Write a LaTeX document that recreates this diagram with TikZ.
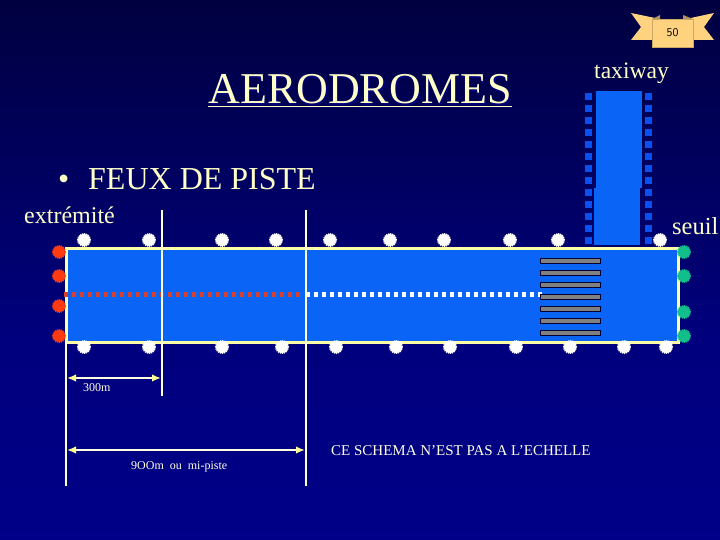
\documentclass[tikz,border=0pt]{standalone}
\usepackage{fontspec}
\setmainfont{Liberation Serif}
\usetikzlibrary{arrows.meta}
\definecolor{cream}{HTML}{FFFFC8}
\definecolor{edgecol}{HTML}{FFFFA8}
\definecolor{pale}{HTML}{FFFFE0}
\definecolor{runway}{HTML}{0A64F5}
\definecolor{redlight}{HTML}{FF3A10}
\definecolor{greenlight}{HTML}{12BE8C}
\definecolor{redmark}{HTML}{D8402C}
\definecolor{ribbon}{HTML}{FFD27F}
\definecolor{ribbondark}{HTML}{B09060}
\definecolor{taxisq}{HTML}{0850F0}
\definecolor{bgtop}{HTML}{000040}
\definecolor{bgbot}{HTML}{00007E}
\definecolor{bgend}{HTML}{000088}
\definecolor{tipcol}{HTML}{FFFF90}
\definecolor{stripeedge}{HTML}{000030}
\tikzset{
  lamp/.style={circle,minimum size=12pt,inner sep=0pt,fill=#1,draw=#1,line width=1.8pt,dash pattern=on 1.2pt off 0.8pt},
  whitelamp/.style={lamp=white},
  redlamp/.style={lamp=redlight},
  greenlamp/.style={lamp=greenlight},
  txt/.style={text=cream,inner sep=0pt,anchor=base},
  small/.style={text=pale,inner sep=0pt,anchor=base,font=\fontsize{12}{12}\selectfont},
  guide/.style={draw=pale,line width=2.2pt},
  dimline/.style={draw=pale,line width=2.2pt,{Latex[length=9pt,width=7.5pt,color=tipcol]}-{Latex[length=9pt,width=7.5pt,color=tipcol]}},
  stripe/.style={fill=gray,draw=stripeedge,line width=1.4pt},
  sq/.style={fill=taxisq},
  dot/.style={inner sep=0pt,minimum width=4.5pt,minimum height=5pt},
}
\begin{document}
\begin{tikzpicture}[x=1pt,y=-1pt]
\useasboundingbox (0,0) rectangle (720,540);
\shade[top color=bgtop,bottom color=bgbot] (0,0) rectangle (720,340);
\shade[top color=bgbot,bottom color=bgend] (0,340) rectangle (720,540);

% taxiway
\fill[runway] (596,91) rectangle (642,188);
\fill[runway] (594,188) rectangle (640,245);
\foreach \y in {93,105,...,237}{
  \fill[sq] (585,\y) rectangle ++(7,7);
  \fill[sq] (645,\y) rectangle ++(7,7);
}

% runway
\node[draw=edgecol,fill=runway,line width=3pt,inner sep=0pt,minimum width=612pt,minimum height=94pt] (piste) at (372,295) {};
\draw[edgecol,line width=3pt] (66.5,247) -- (66.5,343);

% centre line
\foreach \x in {66,74,...,298}{\node[dot,fill=redmark] at (\x,294.5) {};}
\foreach \x in {308,316,...,540}{\node[dot,fill=white] at (\x,294.5) {};}

% threshold stripes
\foreach \y in {261,273,285,297,309,321,333}{
  \draw[stripe] (540.7,\y-2.3) rectangle (600.3,\y+2.3);
}

% guide lines
\coordinate (g1a) at (162,210); \coordinate (g1b) at (162,396);
\coordinate (g2a) at (306,210); \coordinate (g2b) at (306,486);
\coordinate (g0a) at (66,342);  \coordinate (g0b) at (66,486);
\draw[guide] (g1a) -- (g1b);
\draw[guide] (g2a) -- (g2b);
\draw[guide] (g0a) -- (g0b);

% dimension lines
\coordinate (d1a) at (67,378); \coordinate (d1b) at (161,378);
\coordinate (d2a) at (67,450); \coordinate (d2b) at (305,450);
\draw[dimline] (d1a) -- (d1b);
\draw[dimline] (d2a) -- (d2b);

% lamps
\foreach \x [count=\i] in {84,149,222,276,330,390,444,510,558,660}{
  \node[whitelamp] (t\i) at (\x,240) {};
}
\foreach \x [count=\i] in {84,149,222,282,336,396,450,516,570,624,666}{
  \node[whitelamp] (b\i) at (\x,347) {};
}
\foreach \y [count=\i] in {252,276,306,336}{
  \node[redlamp] (r\i) at (59,\y) {};
}
\foreach \y [count=\i] in {252,276,312,336}{
  \node[greenlamp] (v\i) at (684,\y) {};
}

% badge
\fill[ribbon] (631,13) -- (660,19) -- (660,40) -- (631,40) -- (641,27) -- cycle;
\fill[ribbon] (714,13) -- (686,19) -- (686,40) -- (714,40) -- (704,27) -- cycle;
\fill[ribbondark] (652,19) -- (660,15) -- (660,19) -- cycle;
\fill[ribbondark] (693,19) -- (683,15) -- (683,19) -- cycle;
\node[fill=ribbon,draw=ribbon!80!black,line width=0.4pt,minimum width=41pt,minimum height=28pt,inner sep=0pt,text=black,font=\sffamily\fontsize{12}{12}\selectfont] (badge) at (672.5,33) {50};

% texts
\node[txt,font=\fontsize{44}{44}\selectfont,text=bgbot] at (361.5,105.5) {AERODROMES};
\node[txt,font=\fontsize{44}{44}\selectfont] (title) at (360,104) {AERODROMES};
\draw[cream,line width=1.6pt] (208,106.5) -- (512,106.5);
\node[txt,font=\fontsize{32}{32}\selectfont,anchor=base west] (bul) at (58,190) {•};
\node[txt,font=\fontsize{32}{32}\selectfont,anchor=base west] (feux) at (88,190) {FEUX DE PISTE};
\node[txt,font=\fontsize{24}{24}\selectfont,anchor=base west] (ext) at (24,224) {extrémité};
\node[txt,font=\fontsize{23.6}{24}\selectfont,anchor=base west] (tw) at (594,79) {taxiway};
\node[txt,font=\fontsize{24.5}{25}\selectfont,anchor=base west] (se) at (672,235) {seuil};
\node[small,anchor=base west] (l300) at (83,391) {300m};
\node[small,anchor=base west] (l900) at (131,469) {9OOm\ \ ou\ \ mi-piste};
\node[txt,font=\fontsize{15}{15}\selectfont,anchor=base west,text=pale] (ce) at (331,455) {CE SCHEMA N’EST PAS A L’ECHELLE};
\end{tikzpicture}
\end{document}
